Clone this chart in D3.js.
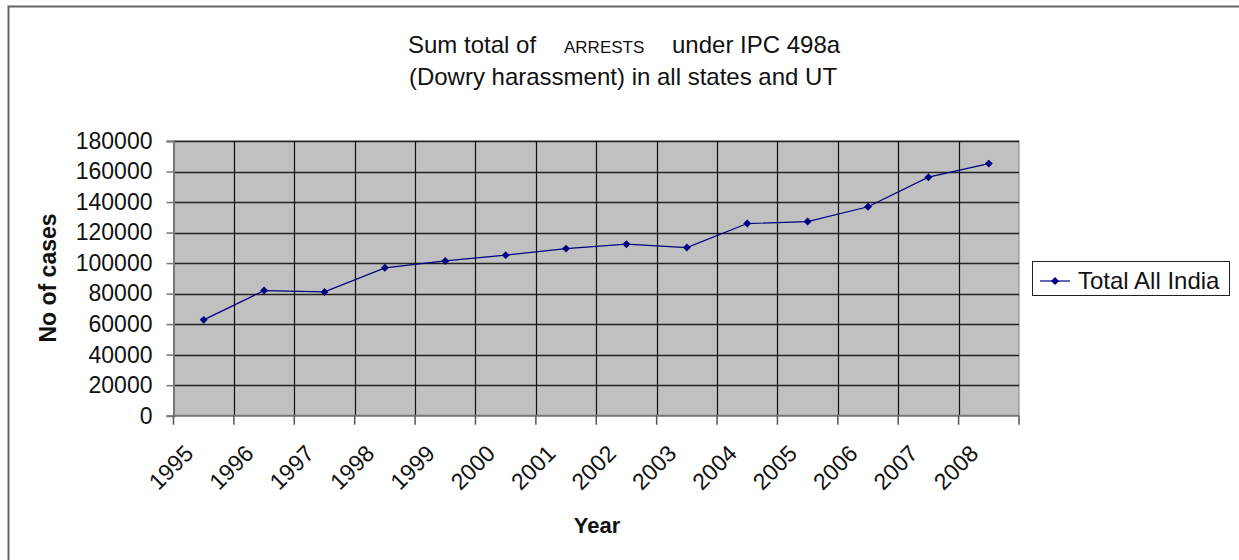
<!DOCTYPE html>
<html><head><meta charset="utf-8">
<script src="https://cdn.jsdelivr.net/npm/d3@7/dist/d3.min.js"></script>
<style>body{margin:0;background:#fff}svg{display:block;font-family:"Liberation Sans",Arial,sans-serif}</style>
</head><body>
<svg id="c" width="1239" height="560"></svg>
<script>
const years = ["1995","1996","1997","1998","1999","2000","2001","2002","2003","2004","2005","2006","2007","2008"];
const totalAllIndia = [62800, 82000, 81100, 96900, 101400, 105200, 109500, 112400, 110200, 125900, 127200, 136900, 156300, 165200];
const yTicks = [0,20000,40000,60000,80000,100000,120000,140000,160000,180000];
const seriesName = "Total All India";

const svg = d3.select("#c");
// outer frame
svg.append("path").attr("d","M8.5,560 V6.5 H1239").attr("fill","none").attr("stroke","#666").attr("stroke-width",2);

const L=173.5, R=1019, T=141, B=415.7;
const x = d3.scaleBand().domain(years).range([L,R]).padding(0);
const y = d3.scaleLinear().domain([0,180000]).range([B,T]);

svg.append("rect").attr("x",L).attr("y",T).attr("width",R-L).attr("height",B-T).attr("fill","#c0c0c0").attr("stroke","#808080").attr("stroke-width",1);

// horizontal grid
svg.append("g").selectAll("line").data(yTicks.filter(d=>d>0)).join("line")
  .attr("x1",L).attr("x2",R).attr("y1",d=>Math.round(y(d))+0.5).attr("y2",d=>Math.round(y(d))+0.5)
  .attr("stroke","#222").attr("stroke-width",1.3);
// vertical grid at category boundaries
svg.append("g").selectAll("line").data(years.slice(1)).join("line")
  .attr("x1",d=>Math.round(x(d))+0.5).attr("x2",d=>Math.round(x(d))+0.5).attr("y1",T).attr("y2",B)
  .attr("stroke","#111").attr("stroke-width",1.2);

// y axis
const yAxis = d3.axisLeft(y).tickValues(yTicks).tickSize(7).tickPadding(14).tickFormat(d3.format("d"));
const gy = svg.append("g").attr("transform",`translate(${L},0)`).call(yAxis);
gy.select(".domain").attr("stroke","#777").attr("stroke-width",2);
gy.selectAll(".tick line").attr("stroke","#777").attr("stroke-width",1.5);
gy.selectAll(".tick text").attr("font-size",23).attr("fill","#111").attr("font-family","Liberation Sans, Arial, sans-serif");

// x axis: ticks at boundaries
const xb = d3.scaleLinear().domain([0,years.length]).range([L,R]);
const gx = svg.append("g").attr("transform",`translate(0,${B})`);
gx.append("line").attr("x1",L).attr("x2",R).attr("stroke","#777").attr("stroke-width",2);
gx.selectAll("line.tk").data(d3.range(years.length+1)).join("line").attr("class","tk")
  .attr("x1",d=>xb(d)).attr("x2",d=>xb(d)).attr("y1",0).attr("y2",9).attr("stroke","#555").attr("stroke-width",1.5);
gx.selectAll("text").data(years).join("text")
  .attr("transform",d=>`translate(${x(d)+x.bandwidth()/2-9},${455-B}) rotate(-45)`)
  .attr("text-anchor","end").attr("font-size",23).attr("fill","#111").text(d=>d);

// line
const cx = d=>x(d)+x.bandwidth()/2;
const line = d3.line().x((d,i)=>cx(years[i])).y(d=>y(d));
svg.append("path").datum(totalAllIndia).attr("d",line).attr("fill","none").attr("stroke","#000080").attr("stroke-width",1.2);
const diamond = d3.symbol().type(d3.symbolDiamond2).size(40);
svg.append("g").selectAll("path").data(totalAllIndia).join("path")
  .attr("d",diamond).attr("transform",(d,i)=>`translate(${cx(years[i])},${y(d)})`).attr("fill","#000080");

// titles
const tg = svg.append("g").attr("fill","#111");
tg.append("text").attr("x",408).attr("y",53).attr("font-size",24).text("Sum total of");
tg.append("text").attr("x",564).attr("y",53).attr("font-size",17).text("ARRESTS");
tg.append("text").attr("x",672).attr("y",53).attr("font-size",24).text("under IPC 498a");
tg.append("text").attr("x",623).attr("y",85).attr("font-size",24).attr("text-anchor","middle").text("(Dowry harassment) in all states and UT");

svg.append("text").attr("transform","translate(56,278) rotate(-90)").attr("text-anchor","middle")
  .attr("font-size",23).attr("font-weight","bold").attr("fill","#111").text("No of cases");
svg.append("text").attr("x",597).attr("y",533).attr("text-anchor","middle")
  .attr("font-size",22).attr("font-weight","bold").attr("fill","#111").text("Year");

// legend
const lg = svg.append("g");
lg.append("rect").attr("x",1032.5).attr("y",261.5).attr("width",197).attr("height",34).attr("fill","#fff").attr("stroke","#222").attr("stroke-width",1);
lg.append("line").attr("x1",1040).attr("x2",1070).attr("y1",281).attr("y2",281).attr("stroke","#000080").attr("stroke-width",1.2);
lg.append("path").attr("d",diamond).attr("transform","translate(1055,281)").attr("fill","#000080");
lg.append("text").attr("x",1078).attr("y",289).attr("font-size",24).attr("fill","#111").text(seriesName);
</script>
</body></html>
